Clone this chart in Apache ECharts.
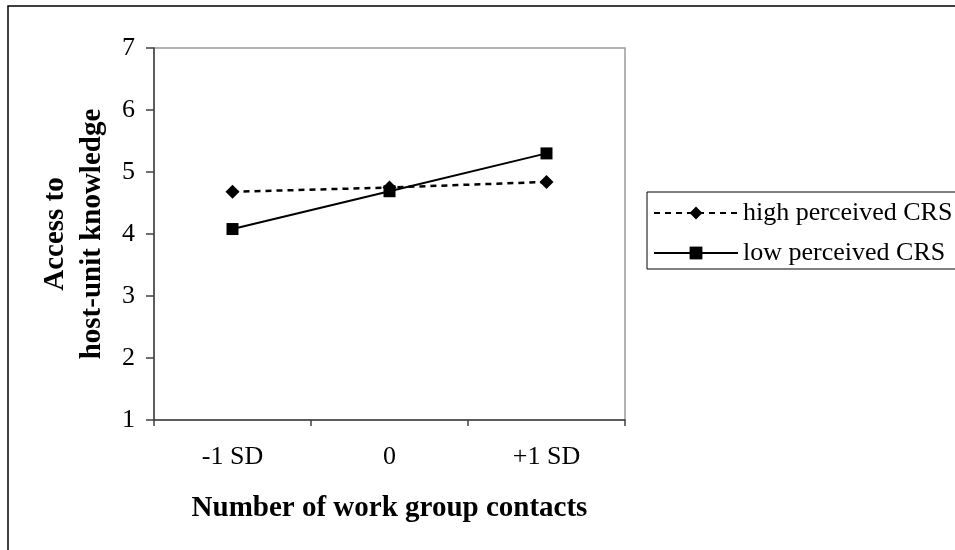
<!DOCTYPE html>
<html><head><meta charset="utf-8">
<script src="https://cdn.jsdelivr.net/npm/echarts@6/dist/echarts.min.js"></script>
<style>html,body{margin:0;padding:0;background:#fff}#c{width:955px;height:550px}</style>
</head><body><div id="c"></div>
<script>
const categories = ['-1 SD', '0', '+1 SD'];
const highCRS = [4.68, 4.75, 4.84];
const lowCRS = [4.08, 4.69, 5.30];
const seriesNames = ['high perceived CRS', 'low perceived CRS'];
const yMin = 1, yMax = 7, yStep = 1;
const xTitle = 'Number of work group contacts';
const yTitle = 'Access to\nhost-unit knowledge';

const font = 'Liberation Serif';
const chart = echarts.init(document.getElementById('c'));
chart.setOption({
  animation: false,
  backgroundColor: '#fff',
  graphic: [{
    type: 'rect', shape: { x: 8, y: 6, width: 1000, height: 600 },
    style: { fill: 'none', stroke: '#000', lineWidth: 1.5 }, z: -1
  }],
  grid: { left: 154, right: 330, top: 48, bottom: 130, show: true, borderColor: '#999', borderWidth: 1.5 },
  legend: {
    left: 647, top: 192, orient: 'vertical',
    itemWidth: 84, itemHeight: 16, itemGap: 14,
    borderColor: '#000', borderWidth: 1, padding: [8, 12, 3, 6],
    textStyle: { fontFamily: font, fontSize: 26, color: '#000' },
    data: seriesNames
  },
  xAxis: {
    type: 'category', data: categories, boundaryGap: true,
    name: xTitle, nameLocation: 'middle', nameGap: 74,
    nameTextStyle: { fontFamily: font, fontSize: 29, fontWeight: 'bold', color: '#000' },
    axisLine: { lineStyle: { color: '#404040', width: 1.5 } },
    axisTick: { show: true, length: 6, inside: false, lineStyle: { color: '#404040', width: 1.5 } },
    axisLabel: { fontFamily: font, fontSize: 26, color: '#000', margin: 24 },
    splitLine: { show: false }
  },
  yAxis: {
    type: 'value', min: yMin, max: yMax, interval: yStep,
    name: yTitle, nameLocation: 'middle', nameGap: 43, nameRotate: 90,
    nameTextStyle: { fontFamily: font, fontSize: 29, fontWeight: 'bold', color: '#000', lineHeight: 37 },
    axisLine: { show: true, lineStyle: { color: '#404040', width: 1.5 } },
    axisTick: { show: true, length: 8, lineStyle: { color: '#404040', width: 1.5 } },
    axisLabel: { fontFamily: font, fontSize: 26, color: '#000', margin: 19 },
    splitLine: { show: false }
  },
  series: [
    {
      name: seriesNames[0], type: 'line', data: highCRS,
      symbol: 'diamond', symbolSize: 14,
      itemStyle: { color: '#000' },
      lineStyle: { color: '#000', width: 2.5, type: [6, 5] }
    },
    {
      name: seriesNames[1], type: 'line', data: lowCRS,
      symbol: 'rect', symbolSize: 12,
      itemStyle: { color: '#000' },
      lineStyle: { color: '#000', width: 2 }
    }
  ]
});
</script></body></html>
